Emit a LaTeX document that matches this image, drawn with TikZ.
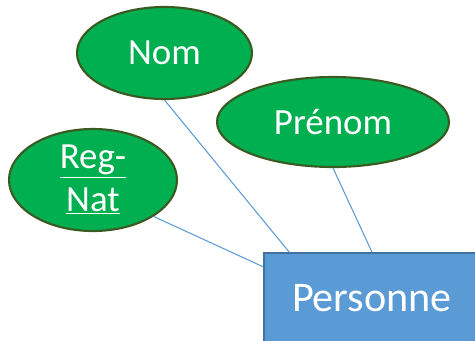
\documentclass[tikz,border=0pt]{standalone}
\usepackage{fontspec}
\setmainfont{Carlito}
\usetikzlibrary{shapes.geometric}
\definecolor{attrgreen}{HTML}{00B050}
\definecolor{attrborder}{HTML}{3A5A22}
\definecolor{entblue}{HTML}{5B9BD5}
\definecolor{entborder}{HTML}{41719C}
\tikzset{
    attribute/.style ={
        shape=ellipse,
        draw=attrborder,
        fill=attrgreen,
        line width=1.2pt,
        text=white,
        inner sep=0pt,
        font=\fontsize{21}{24}\selectfont
    },
    entity/.style ={
        shape=rectangle,
        draw=entborder,
        fill=entblue,
        line width=1pt,
        text=white,
        minimum width=4.32cm,
        minimum height=1.8cm,
        font=\fontsize{24}{28}\selectfont
    },
    link/.style ={
        draw=entblue,
        line width=0.6pt
    }
}
\begin{document}
\begin{tikzpicture}
    \useasboundingbox (0,0) rectangle (9.5,6.8);
    \node[attribute, minimum width=3.5cm, minimum height=1.84cm] (nom) at(3.29,5.74) {Nom};
    \node[attribute, minimum width=4.64cm, minimum height=1.8cm] (prenom) at(6.66,4.36) {Prénom};
    \node[attribute, minimum width=3.36cm, minimum height=2.04cm, align=center] (regnat) at(1.86,3.2) {\underline{Reg-}\\\underline{Nat}};
    \node[entity] (personne) at(7.44,0.84) {Personne};
    \draw[link] (nom.south) -- (personne.151);
    \draw[link] (prenom.south) -- (personne.north);
    \draw[link] (regnat.-31) -- (personne.164);
\end{tikzpicture}
\end{document}
